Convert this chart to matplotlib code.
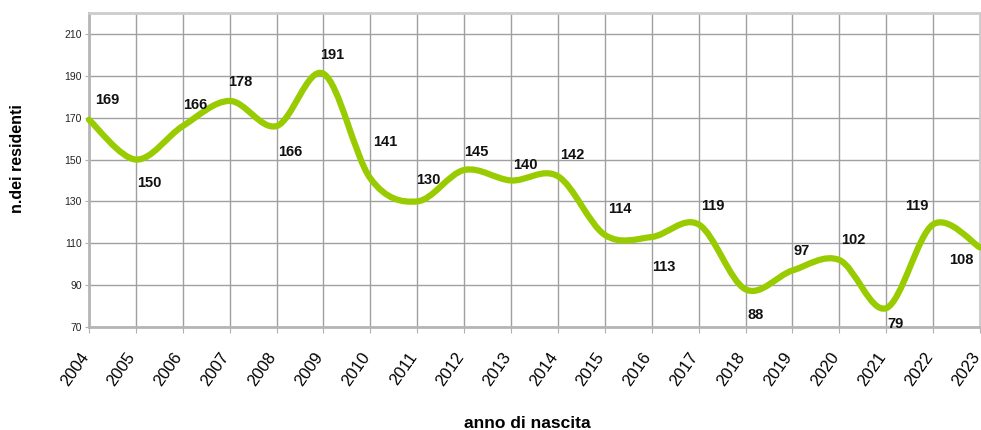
import matplotlib.pyplot as plt
from matplotlib.path import Path
from matplotlib.patches import PathPatch

# data
years = [str(y) for y in range(2004, 2024)]
residents = [169, 150, 166, 178, 166, 191, 141, 130, 145, 140,
             142, 114, 113, 119, 88, 97, 102, 79, 119, 108]
y_ticks = [70, 90, 110, 130, 150, 170, 190, 210]

# label offsets in pixels from each point (label centre)
label_offsets = [(18, 21), (13, -22), (12, 22), (11, 20), (14, -25),
                 (9, 20), (15, 37), (11, 22), (12, 19), (14, 16),
                 (14, 22), (15, 27), (12, -29), (14, 19), (10, -25),
                 (9, 20), (14, 21), (9, -15), (-16, 19), (-19, -12)]

plt.rcParams['font.family'] = ['Liberation Sans', 'DejaVu Sans']

fig = plt.figure(figsize=(9.81, 4.30), dpi=100)
ax = fig.add_axes([89 / 981, 103 / 430, 891 / 981, 314 / 430])

x = list(range(len(years)))

# smoothed line like a spreadsheet "smooth line" (Catmull-Rom as bezier)
verts = [(x[0], residents[0])]
codes = [Path.MOVETO]
n = len(x)
for i in range(n - 1):
    p0 = (x[max(i - 1, 0)], residents[max(i - 1, 0)])
    p1 = (x[i], residents[i])
    p2 = (x[i + 1], residents[i + 1])
    p3 = (x[min(i + 2, n - 1)], residents[min(i + 2, n - 1)])
    c1 = (p1[0] + (p2[0] - p0[0]) / 6, p1[1] + (p2[1] - p0[1]) / 6)
    c2 = (p2[0] - (p3[0] - p1[0]) / 6, p2[1] - (p3[1] - p1[1]) / 6)
    verts += [c1, c2, p2]
    codes += [Path.CURVE4] * 3

line = PathPatch(Path(verts, codes), facecolor='none', edgecolor='#99cc00',
                 lw=4.5, capstyle='round', joinstyle='round', zorder=3, clip_on=False)
ax.add_patch(line)

for i, v in enumerate(residents):
    dx, dy = label_offsets[i]
    ax.annotate(str(v), (x[i], v), xytext=(dx, dy - 5), textcoords='offset pixels',
                ha='center', va='baseline', fontsize=10.5, fontweight='bold',
                color='#111111', zorder=4)

ax.set_xlim(0, n - 1)
ax.set_ylim(70, 220)
ax.set_xticks(x)
ax.set_xticklabels(years, rotation=55, ha='right', va='baseline',
                   rotation_mode='anchor', fontsize=12)
ax.set_yticks(y_ticks)
ax.set_yticklabels([str(t) for t in y_ticks], fontsize=7.5)

ax.grid(True, color='#a0a0a0', lw=1.0)
ax.set_axisbelow(True)
ax.tick_params(axis='x', length=4, color='#b0b0b0', pad=17)
ax.tick_params(axis='y', length=3, color='#b0b0b0', pad=2, labelcolor='#222222')

for side in ['left', 'bottom']:
    ax.spines[side].set_color('#b5b5b5')
    ax.spines[side].set_linewidth(2.0)
for side in ['top', 'right']:
    ax.spines[side].set_color('#cccccc')
    ax.spines[side].set_linewidth(2.0)

fig.text(463 / 981 + 129 / 981 / 2, 1 - 423 / 430, 'anno di nascita', ha='center', va='center',
         fontsize=12.5, fontweight='bold')
fig.text(18 / 981, 1 - 159 / 430, 'n.dei residenti', ha='center', va='center',
         rotation=90, fontsize=11.5, fontweight='bold')

fig.savefig('out.png', dpi=100)
